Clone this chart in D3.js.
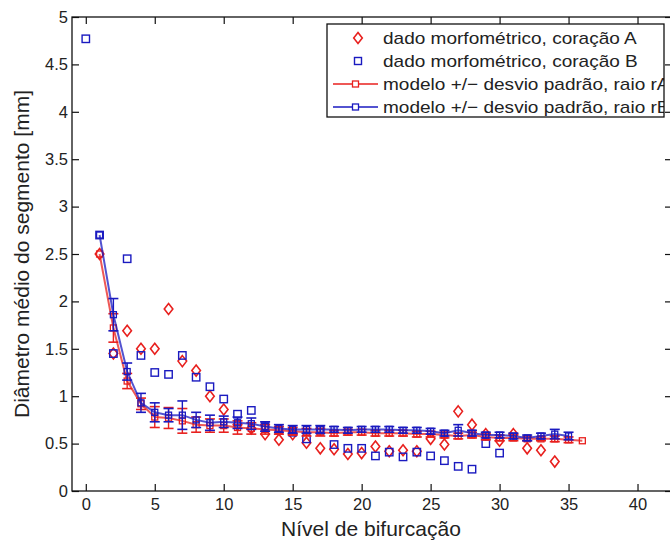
<html>
    <head>
        <script src="https://d3js.org/d3.v7.min.js"></script>
        <style>
            body { margin: 0; background: #fff; }
            text { font-family: "Liberation Sans", Arial, sans-serif; fill: #222; }
        </style>
    </head>
    <body>
        <div id="chart"></div>

        <script type="text/javascript">
            // morphometric data, heart A (red diamonds)
            var levelsA = [1,2,3,4,5,6,7,8,9,10,11,12,13,14,15,16,17,18,19,20,21,22,23,24,25,26,27,28,29,30,31,32,33,34];
            var diamA   = [2.5,1.45,1.69,1.5,1.5,1.92,1.37,1.27,1.0,0.86,0.7,0.66,0.6,0.54,0.6,0.51,0.45,0.44,0.39,0.4,0.47,0.42,0.43,0.42,0.55,0.49,0.84,0.7,0.6,0.53,0.6,0.45,0.43,0.31];

            // morphometric data, heart B (blue squares)
            var levelsB = [0,1,2,3,4,5,6,7,8,9,10,11,12,13,14,15,16,17,18,19,20,21,22,23,24,25,26,27,28,29,30];
            var diamB   = [4.77,2.7,1.45,2.45,1.43,1.25,1.23,1.43,1.2,1.1,0.97,0.81,0.85,0.68,0.64,0.62,0.55,0.64,0.49,0.45,0.45,0.37,0.41,0.36,0.41,0.37,0.32,0.26,0.23,0.5,0.4];

            // model +/- std, radius rA
            var levelsRA = d3.range(1, 37);
            var meanRA = [2.5,1.72,1.16,0.92,0.78,0.77,0.74,0.7,0.69,0.69,0.67,0.66,0.65,0.64,0.63,0.62,0.62,0.61,0.62,0.62,0.61,0.61,0.61,0.6,0.6,0.59,0.58,0.59,0.57,0.56,0.56,0.55,0.55,0.55,0.54,0.53];
            var sdRA   = [0,0.15,0.08,0.06,0.11,0.11,0.13,0.08,0.07,0.07,0.07,0.06,0.05,0.04,0.04,0.04,0.04,0.03,0.03,0.03,0.03,0.03,0.03,0.03,0.03,0.03,0.03,0.03,0.03,0.03,0.03,0.02,0.02,0.03,0.03,0];

            // model +/- std, radius rB
            var levelsRB = d3.range(1, 36);
            var meanRB = [2.7,1.86,1.26,0.93,0.83,0.8,0.8,0.75,0.72,0.73,0.72,0.71,0.68,0.66,0.65,0.65,0.65,0.65,0.64,0.65,0.65,0.65,0.64,0.64,0.63,0.61,0.64,0.61,0.59,0.59,0.58,0.56,0.58,0.6,0.58];
            var sdRB   = [0,0.17,0.09,0.1,0.1,0.07,0.15,0.08,0.08,0.06,0.06,0.06,0.05,0.04,0.04,0.04,0.04,0.03,0.03,0.03,0.03,0.03,0.03,0.03,0.03,0.03,0.06,0.03,0.03,0.03,0.03,0.03,0.03,0.05,0.04];

            var xTicks = [0,5,10,15,20,25,30,35,40];
            var yTicks = [0,0.5,1,1.5,2,2.5,3,3.5,4,4.5,5];
            var legendLabels = [
                "dado morfométrico, coração A",
                "dado morfométrico, coração B",
                "modelo +/\u2212 desvio padrão, raio rA",
                "modelo +/\u2212 desvio padrão, raio rB"
            ];

            const width = 670;
            const height = 543;
            const plot = {left: 72, right: 672, top: 17, bottom: 491};

            const red = "#e8201e";
            const blue = "#1a1ac0";

            const x = d3.scaleLinear().domain([-1, 42.5]).range([plot.left, plot.right]);
            const y = d3.scaleLinear().domain([0, 5]).range([plot.bottom, plot.top]);

            const svg = d3.select('#chart')
                .append('svg')
                .attr('width', width)
                .attr('height', height);

            // axes box, matlab style ticks pointing inside
            svg.append("g")
                .attr("transform", "translate(0," + plot.bottom + ")")
                .call(d3.axisBottom(x).tickValues(xTicks).tickSizeInner(-7).tickSizeOuter(0).tickPadding(7))
                .call(g => g.select(".domain").remove());
            svg.append("g")
                .attr("transform", "translate(0," + plot.top + ")")
                .call(d3.axisTop(x).tickValues(xTicks).tickSizeInner(-7).tickSizeOuter(0).tickFormat(""))
                .call(g => g.select(".domain").remove());
            svg.append("g")
                .attr("transform", "translate(" + plot.left + ",0)")
                .call(d3.axisLeft(y).tickValues(yTicks).tickSizeInner(-7).tickSizeOuter(0).tickPadding(4).tickFormat(d3.format("")))
                .call(g => g.select(".domain").remove());
            svg.append("g")
                .attr("transform", "translate(" + plot.right + ",0)")
                .call(d3.axisRight(y).tickValues(yTicks).tickSizeInner(-7).tickSizeOuter(0).tickFormat(""))
                .call(g => g.select(".domain").remove());

            svg.selectAll(".tick line").attr("stroke", "#111").attr("stroke-width", 1.2);
            svg.selectAll(".tick text").style("font-size", "16.5px").attr("fill", "#222");

            svg.append("rect")
                .attr("x", plot.left).attr("y", plot.top)
                .attr("width", plot.right - plot.left).attr("height", plot.bottom - plot.top)
                .attr("fill", "none").attr("stroke", "#111").attr("stroke-width", 1.3);

            // morphometric markers
            var ptsA = levelsA.map((l, i) => ({x: l, y: diamA[i]}));
            var ptsB = levelsB.map((l, i) => ({x: l, y: diamB[i]}));

            function diamondPath(cx, cy) {
                return "M" + cx + "," + (cy - 5.5) + "L" + (cx + 4.3) + "," + cy + "L" + cx + "," + (cy + 5.5) + "L" + (cx - 4.3) + "," + cy + "Z";
            }

            svg.append("g").selectAll("path")
                .data(ptsA)
                .enter()
                .append("path")
                .attr("d", d => diamondPath(x(d.x), y(d.y)))
                .attr("fill", "none")
                .attr("stroke", red)
                .attr("stroke-width", 1.6);

            svg.append("g").selectAll("rect")
                .data(ptsB)
                .enter()
                .append("rect")
                .attr("x", d => x(d.x) - 3.7)
                .attr("y", d => y(d.y) - 3.7)
                .attr("width", 7.4)
                .attr("height", 7.4)
                .attr("fill", "none")
                .attr("stroke", blue)
                .attr("stroke-width", 1.4);

            // model series with error bars
            function drawModel(levels, means, sds, color) {
                var pts = levels.map((l, i) => ({x: l, y: means[i], sd: sds[i]}));
                var g = svg.append("g");

                g.append("path")
                    .datum(pts)
                    .attr("d", d3.line().x(d => x(d.x)).y(d => y(d.y)))
                    .attr("fill", "none")
                    .attr("stroke", color)
                    .attr("stroke-opacity", 0.75)
                    .attr("stroke-width", 2);

                var bars = g.selectAll(".bar")
                    .data(pts.filter(d => d.sd > 0))
                    .enter()
                    .append("g");
                bars.append("line")
                    .attr("x1", d => x(d.x)).attr("x2", d => x(d.x))
                    .attr("y1", d => y(d.y - d.sd)).attr("y2", d => y(d.y + d.sd))
                    .attr("stroke", color).attr("stroke-width", 1.4);
                bars.append("line")
                    .attr("x1", d => x(d.x) - 5).attr("x2", d => x(d.x) + 5)
                    .attr("y1", d => y(d.y - d.sd)).attr("y2", d => y(d.y - d.sd))
                    .attr("stroke", color).attr("stroke-width", 1.6);
                bars.append("line")
                    .attr("x1", d => x(d.x) - 5).attr("x2", d => x(d.x) + 5)
                    .attr("y1", d => y(d.y + d.sd)).attr("y2", d => y(d.y + d.sd))
                    .attr("stroke", color).attr("stroke-width", 1.6);

                g.selectAll(".mk")
                    .data(pts)
                    .enter()
                    .append("rect")
                    .attr("x", d => x(d.x) - 3)
                    .attr("y", d => y(d.y) - 3)
                    .attr("width", 6)
                    .attr("height", 6)
                    .attr("fill", "none")
                    .attr("stroke", color)
                    .attr("stroke-width", 1.3);
            }

            drawModel(levelsRA, meanRA, sdRA, red);
            drawModel(levelsRB, meanRB, sdRB, blue);

            // axis titles
            svg.append("text")
                .attr("x", 371)
                .attr("y", 536)
                .attr("text-anchor", "middle")
                .style("font-size", "21px")
                .text("Nível de bifurcação");

            svg.append("text")
                .attr("transform", "translate(29,254) rotate(-90)")
                .attr("text-anchor", "middle")
                .style("font-size", "21px")
                .text("Diâmetro médio do segmento [mm]");

            // legend
            const lg = {x: 327, y: 24, w: 337, h: 93};
            svg.append("clipPath").attr("id", "lgclip")
                .append("rect").attr("x", lg.x).attr("y", lg.y).attr("width", lg.w).attr("height", lg.h);

            var legend = svg.append("g");
            legend.append("rect")
                .attr("x", lg.x).attr("y", lg.y).attr("width", lg.w).attr("height", lg.h)
                .attr("fill", "#fff");

            var rows = legend.append("g").attr("clip-path", "url(#lgclip)")
                .selectAll("g")
                .data(legendLabels)
                .enter()
                .append("g")
                .attr("transform", (d, i) => "translate(0," + (lg.y + 14 + i * 23) + ")");

            rows.append("text")
                .attr("transform", "translate(383,6) scale(1.12,1)")
                .style("font-size", "17px")
                .text(d => d);

            rows.filter((d, i) => i === 0).append("path")
                .attr("d", diamondPath(358, 0))
                .attr("fill", "none").attr("stroke", red).attr("stroke-width", 1.6);
            rows.filter((d, i) => i === 1).append("rect")
                .attr("x", 354.5).attr("y", -3.5).attr("width", 7).attr("height", 7)
                .attr("fill", "none").attr("stroke", blue).attr("stroke-width", 1.4);
            rows.filter((d, i) => i >= 2).append("line")
                .attr("x1", 333).attr("x2", 378).attr("y1", 0).attr("y2", 0)
                .attr("stroke", (d, i) => i === 0 ? red : blue).attr("stroke-width", 1.4);
            rows.filter((d, i) => i >= 2).append("rect")
                .attr("x", 352.5).attr("y", -3).attr("width", 6).attr("height", 6)
                .attr("fill", "#fff")
                .attr("stroke", (d, i) => i === 0 ? red : blue).attr("stroke-width", 1.3);

            legend.append("rect")
                .attr("x", lg.x).attr("y", lg.y).attr("width", lg.w).attr("height", lg.h)
                .attr("fill", "none").attr("stroke", "#111").attr("stroke-width", 1.3);
        </script>
    </body>
</html>
